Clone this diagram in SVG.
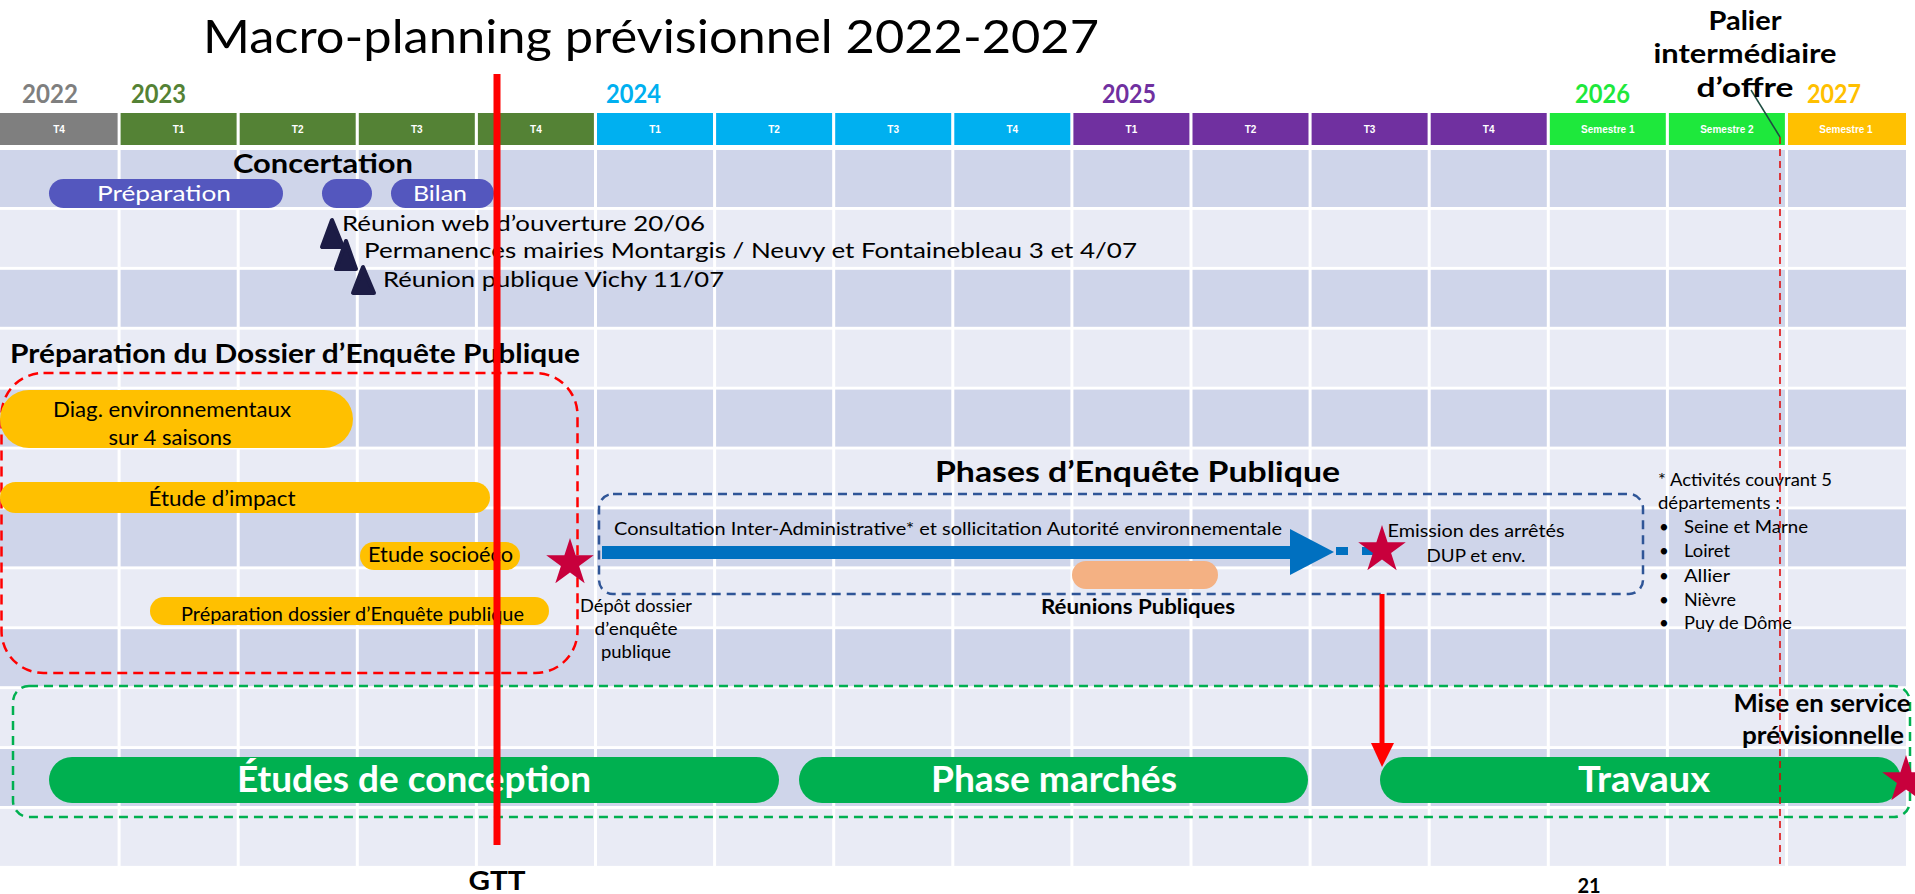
<svg xmlns="http://www.w3.org/2000/svg" width="1915" height="894" viewBox="0 0 1915 894">
<defs>
<style>
.t{font-family:Lato,"Noto Sans","Liberation Sans",sans-serif;fill:#000}
.b{font-weight:700}
.m{text-anchor:middle}
.h{font-family:"Liberation Sans",Arial,sans-serif;font-weight:700;font-size:10px;fill:#fff;text-anchor:middle}
.dk{fill:#cfd5ea}.lt{fill:#e9ebf5}
.yr{font-family:Lato,"Noto Sans",sans-serif;font-weight:700;font-size:27px}
.pill{fill:#5457be}
.or{fill:#ffc000}
.gr{fill:#00b050}
.wt{fill:#fff}
.tri{fill:#1c1c45;stroke:#1c1c45;stroke-width:4;stroke-linejoin:round}
.star{fill:#c8003c}
.grid line{stroke:#fff;stroke-width:3}
</style>
<path id="star" d="M0,-25 L5.61,-7.73 L23.78,-7.73 L9.08,2.95 L14.69,20.23 L0,9.55 L-14.69,20.23 L-9.08,2.95 L-23.78,-7.73 L-5.61,-7.73Z"/>
</defs>
<rect width="1915" height="894" fill="#fff"/>

<g id="title">
<text class="t" x="203" y="53" font-size="46" textLength="896" lengthAdjust="spacingAndGlyphs">Macro-planning prévisionnel 2022-2027</text>
</g>

<g id="years">
<text class="yr" x="22" y="103" fill="#7f7f7f" textLength="56" lengthAdjust="spacingAndGlyphs">2022</text>
<text class="yr" x="131" y="103" fill="#548235" textLength="55" lengthAdjust="spacingAndGlyphs">2023</text>
<text class="yr" x="606" y="103" fill="#00b0f0" textLength="55" lengthAdjust="spacingAndGlyphs">2024</text>
<text class="yr" x="1102" y="103" fill="#7030a0" textLength="54" lengthAdjust="spacingAndGlyphs">2025</text>
<text class="yr" x="1575" y="103" fill="#1ee83c" textLength="55" lengthAdjust="spacingAndGlyphs">2026</text>
<text class="yr" x="1807" y="103" fill="#ffc000" textLength="54" lengthAdjust="spacingAndGlyphs">2027</text>
</g>

<g id="header">
<rect x="0" y="113" width="117.6" height="32" fill="#7f7f7f"/>
<rect x="120.6" y="113" width="116" height="32" fill="#548235"/>
<rect x="239.7" y="113" width="116" height="32" fill="#548235"/>
<rect x="358.8" y="113" width="116" height="32" fill="#548235"/>
<rect x="477.9" y="113" width="116" height="32" fill="#548235"/>
<rect x="597" y="113" width="116" height="32" fill="#00b0f0"/>
<rect x="716.1" y="113" width="116" height="32" fill="#00b0f0"/>
<rect x="835.2" y="113" width="116" height="32" fill="#00b0f0"/>
<rect x="954.3" y="113" width="116" height="32" fill="#00b0f0"/>
<rect x="1073.4" y="113" width="116" height="32" fill="#7030a0"/>
<rect x="1192.5" y="113" width="116" height="32" fill="#7030a0"/>
<rect x="1311.6" y="113" width="116" height="32" fill="#7030a0"/>
<rect x="1430.7" y="113" width="116" height="32" fill="#7030a0"/>
<rect x="1549.8" y="113" width="116" height="32" fill="#1ee83c"/>
<rect x="1668.9" y="113" width="116" height="32" fill="#1ee83c"/>
<rect x="1788" y="113" width="118" height="32" fill="#ffc000"/>
<text class="h" x="59" y="133">T4</text>
<text class="h" x="178.6" y="133">T1</text>
<text class="h" x="297.7" y="133">T2</text>
<text class="h" x="416.8" y="133">T3</text>
<text class="h" x="535.9" y="133">T4</text>
<text class="h" x="655" y="133">T1</text>
<text class="h" x="774.1" y="133">T2</text>
<text class="h" x="893.2" y="133">T3</text>
<text class="h" x="1012.3" y="133">T4</text>
<text class="h" x="1131.4" y="133">T1</text>
<text class="h" x="1250.5" y="133">T2</text>
<text class="h" x="1369.6" y="133">T3</text>
<text class="h" x="1488.7" y="133">T4</text>
<text class="h" x="1607.8" y="133">Semestre 1</text>
<text class="h" x="1726.9" y="133">Semestre 2</text>
<text class="h" x="1846" y="133">Semestre 1</text>
</g>

<g id="grid" class="grid">
<rect class="dk" x="0" y="150" width="1906" height="57"/>
<rect class="lt" x="0" y="209.9" width="1906" height="57"/>
<rect class="dk" x="0" y="269.8" width="1906" height="57"/>
<rect class="lt" x="0" y="329.7" width="1906" height="57"/>
<rect class="dk" x="0" y="389.6" width="1906" height="57"/>
<rect class="lt" x="0" y="449.5" width="1906" height="57"/>
<rect class="dk" x="0" y="509.4" width="1906" height="57"/>
<rect class="lt" x="0" y="569.3" width="1906" height="57"/>
<rect class="dk" x="0" y="629.2" width="1906" height="57"/>
<rect class="lt" x="0" y="689.1" width="1906" height="57"/>
<rect class="dk" x="0" y="749" width="1906" height="57"/>
<rect class="lt" x="0" y="808.9" width="1906" height="57"/>
<line x1="119.1" y1="148" x2="119.1" y2="867"/>
<line x1="238.2" y1="148" x2="238.2" y2="867"/>
<line x1="357.3" y1="148" x2="357.3" y2="867"/>
<line x1="476.4" y1="148" x2="476.4" y2="867"/>
<line x1="595.5" y1="148" x2="595.5" y2="867"/>
<line x1="714.6" y1="148" x2="714.6" y2="867"/>
<line x1="833.7" y1="148" x2="833.7" y2="867"/>
<line x1="952.8" y1="148" x2="952.8" y2="867"/>
<line x1="1071.9" y1="148" x2="1071.9" y2="867"/>
<line x1="1191" y1="148" x2="1191" y2="867"/>
<line x1="1310.1" y1="148" x2="1310.1" y2="867"/>
<line x1="1429.2" y1="148" x2="1429.2" y2="867"/>
<line x1="1548.3" y1="148" x2="1548.3" y2="867"/>
<line x1="1667.4" y1="148" x2="1667.4" y2="867"/>
<line x1="1786.5" y1="148" x2="1786.5" y2="867"/>
</g>

<g id="concertation">
<text class="t b m" x="323" y="173" font-size="26" textLength="180" lengthAdjust="spacingAndGlyphs">Concertation</text>
<rect class="pill" x="49" y="179" width="234" height="29" rx="14.5"/>
<rect class="pill" x="322" y="179" width="50" height="29" rx="14.5"/>
<rect class="pill" x="391" y="179" width="103" height="29" rx="14.5"/>
<text class="t m wt" x="164" y="201" font-size="21" textLength="134" lengthAdjust="spacingAndGlyphs">Préparation</text>
<text class="t m wt" x="440" y="201" font-size="21" textLength="54" lengthAdjust="spacingAndGlyphs">Bilan</text>
</g>

<g id="reunions">
<polygon class="tri" points="332,220 322,247 343,247"/>
<polygon class="tri" points="346,241 336,269 356,269"/>
<polygon class="tri" points="363,267 353,293 374,293"/>
<text class="t" x="342" y="231" font-size="21" textLength="363" lengthAdjust="spacingAndGlyphs">Réunion web d’ouverture 20/06</text>
<text class="t" x="364" y="258" font-size="21" textLength="773" lengthAdjust="spacingAndGlyphs">Permanences mairies Montargis / Neuvy et Fontainebleau 3 et 4/07</text>
<text class="t" x="383" y="287" font-size="21" textLength="341" lengthAdjust="spacingAndGlyphs">Réunion publique Vichy 11/07</text>
</g>

<g id="dossier">
<text class="t b" x="10" y="363" font-size="26" textLength="570" lengthAdjust="spacingAndGlyphs">Préparation du Dossier d’Enquête Publique</text>
<rect x="1.5" y="373" width="576" height="300" rx="42" fill="none" stroke="#ff0000" stroke-width="2.5" stroke-dasharray="10 6"/>
<rect class="or" x="0" y="390" width="353" height="58" rx="29"/>
<text class="t m" x="172" y="417" font-size="22" textLength="238" lengthAdjust="spacingAndGlyphs">Diag. environnementaux</text>
<text class="t m" x="170" y="445" font-size="22" textLength="123" lengthAdjust="spacingAndGlyphs">sur 4 saisons</text>
<rect class="or" x="0" y="482" width="490" height="31" rx="15.5"/>
<text class="t m" x="222" y="506" font-size="22" textLength="147" lengthAdjust="spacingAndGlyphs">Étude d’impact</text>
<rect class="or" x="360" y="542" width="160" height="28" rx="14"/>
<text class="t" x="368" y="562" font-size="22" textLength="145" lengthAdjust="spacingAndGlyphs">Etude socioéco</text>
<rect class="or" x="150" y="597" width="399" height="28" rx="14"/>
<text class="t" x="181" y="621" font-size="20" textLength="343" lengthAdjust="spacingAndGlyphs">Préparation dossier d’Enquête publique</text>
</g>

<g id="depot">
<use href="#star" class="star" transform="translate(570,563)"/>
<text class="t m" x="636" y="612" font-size="17" textLength="112" lengthAdjust="spacingAndGlyphs">Dépôt dossier</text>
<text class="t m" x="636" y="635" font-size="17" textLength="83" lengthAdjust="spacingAndGlyphs">d’enquête</text>
<text class="t m" x="636" y="658" font-size="17" textLength="70" lengthAdjust="spacingAndGlyphs">publique</text>
</g>

<g id="enquete">
<text class="t b" x="935" y="482" font-size="29" textLength="405" lengthAdjust="spacingAndGlyphs">Phases d’Enquête Publique</text>
<rect x="599" y="494" width="1044" height="100" rx="14" fill="none" stroke="#2f5597" stroke-width="2.5" stroke-dasharray="9 6"/>
<text class="t" x="614" y="535" font-size="18" textLength="668" lengthAdjust="spacingAndGlyphs">Consultation Inter-Administrative* et sollicitation Autorité environnementale</text>
<rect x="1072" y="561" width="146" height="28" rx="14" fill="#f4b183"/>
<text class="t b m" x="1138" y="614" font-size="21" textLength="194" lengthAdjust="spacingAndGlyphs">Réunions Publiques</text>
</g>

<g id="emission">
<text class="t m" x="1476" y="537" font-size="18" textLength="177" lengthAdjust="spacingAndGlyphs">Emission des arrêtés</text>
<text class="t m" x="1476" y="562" font-size="18" textLength="99" lengthAdjust="spacingAndGlyphs">DUP et env.</text>
</g>

<g id="notes">
<text class="t" x="1658" y="486" font-size="17" textLength="174" lengthAdjust="spacingAndGlyphs">* Activités couvrant 5</text>
<text class="t" x="1658" y="509" font-size="17" textLength="122" lengthAdjust="spacingAndGlyphs">départements :</text>
<text class="t" x="1659" y="533" font-size="17">•</text>
<text class="t" x="1684" y="533" font-size="17" textLength="124" lengthAdjust="spacingAndGlyphs">Seine et Marne</text>
<text class="t" x="1659" y="557" font-size="17">•</text>
<text class="t" x="1684" y="557" font-size="17" textLength="46" lengthAdjust="spacingAndGlyphs">Loiret</text>
<text class="t" x="1659" y="582" font-size="17">•</text>
<text class="t" x="1684" y="582" font-size="17" textLength="46" lengthAdjust="spacingAndGlyphs">Allier</text>
<text class="t" x="1659" y="606" font-size="17">•</text>
<text class="t" x="1684" y="606" font-size="17" textLength="52" lengthAdjust="spacingAndGlyphs">Nièvre</text>
<text class="t" x="1659" y="629" font-size="17">•</text>
<text class="t" x="1684" y="629" font-size="17" textLength="108" lengthAdjust="spacingAndGlyphs">Puy de Dôme</text>
</g>

<g id="realisation">
<rect x="13" y="686" width="1897" height="131" rx="16" fill="none" stroke="#00b050" stroke-width="2.5" stroke-dasharray="9 6"/>
<text class="t b m" x="1822" y="712" font-size="24" textLength="177" lengthAdjust="spacingAndGlyphs">Mise en service</text>
<text class="t b m" x="1823" y="744" font-size="24" textLength="162" lengthAdjust="spacingAndGlyphs">prévisionnelle</text>
<rect class="gr" x="49" y="757" width="730" height="46" rx="23"/>
<text class="t b m wt" x="414" y="792" font-size="36" textLength="354" lengthAdjust="spacingAndGlyphs">Études de conception</text>
<rect class="gr" x="799" y="757" width="509" height="46" rx="23"/>
<text class="t b m wt" x="1054" y="792" font-size="36" textLength="246" lengthAdjust="spacingAndGlyphs">Phase marchés</text>
<rect class="gr" x="1380" y="757" width="521" height="46" rx="23"/>
<text class="t b m wt" x="1644" y="792" font-size="36" textLength="132" lengthAdjust="spacingAndGlyphs">Travaux</text>
<use href="#star" class="star" transform="translate(1906,780)"/>
</g>

<g id="connectors">
<rect x="602" y="546" width="690" height="13" fill="#0070c0"/>
<polygon points="1290,529 1334,552 1290,575" fill="#0070c0"/>
<line x1="1336" y1="551" x2="1375" y2="551" stroke="#0070c0" stroke-width="8" stroke-dasharray="12 14"/>
<line x1="1382" y1="594" x2="1382" y2="745" stroke="#ff0000" stroke-width="5"/>
<polygon points="1371,743 1394,743 1382,767" fill="#ff0000"/>
<line x1="1780" y1="137" x2="1780" y2="867" stroke="#e00000" stroke-width="1.5" stroke-dasharray="7 5"/>
<line x1="1751" y1="90" x2="1780" y2="137" stroke="#1d4d40" stroke-width="1.5"/>
<line x1="497" y1="74" x2="497" y2="845" stroke="#ff0000" stroke-width="7"/>
</g>

<g id="emission-star">
<use href="#star" class="star" transform="translate(1382,550)"/>
</g>

<g id="palier">
<text class="t b m" x="1745" y="30" font-size="26" textLength="73" lengthAdjust="spacingAndGlyphs">Palier</text>
<text class="t b m" x="1745" y="63" font-size="26" textLength="183" lengthAdjust="spacingAndGlyphs">intermédiaire</text>
<text class="t b m" x="1745" y="97" font-size="26" textLength="97" lengthAdjust="spacingAndGlyphs">d’offre</text>
</g>

<g id="labels">
<text class="t b m" x="497" y="890" font-size="27" textLength="57" lengthAdjust="spacingAndGlyphs">GTT</text>
<text class="t b m" x="1589" y="893" font-size="20">21</text>
</g>
</svg>
